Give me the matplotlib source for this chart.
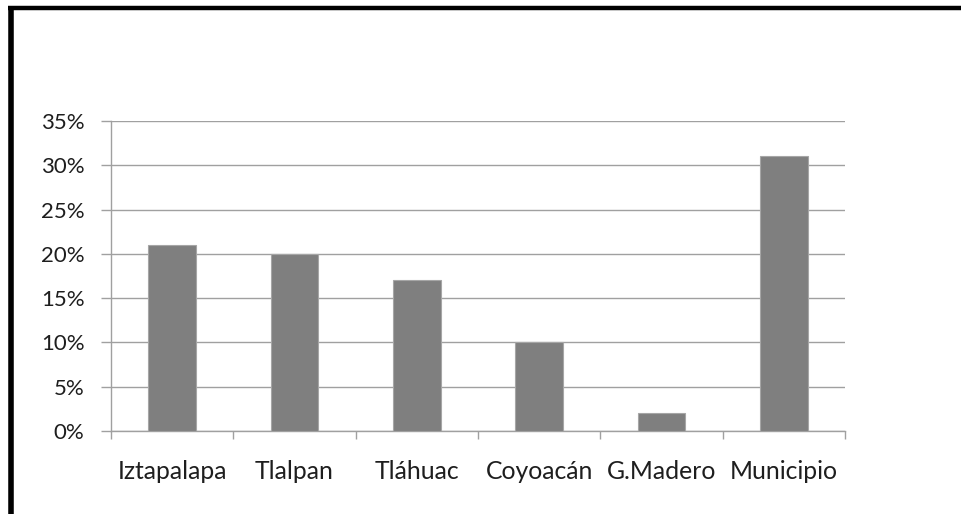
import numpy as np
import matplotlib
matplotlib.use('Agg')
import matplotlib.pyplot as plt
from matplotlib.lines import Line2D
from matplotlib.ticker import FuncFormatter, FixedLocator

# data
delegaciones = ['Iztapalapa', 'Tlalpan', 'Tláhuac', 'Coyoacán', 'G.Madero', 'Municipio']
porcentajes = [0.21, 0.20, 0.17, 0.10, 0.02, 0.31]
yticks = [0, 0.05, 0.10, 0.15, 0.20, 0.25, 0.30, 0.35]

plt.rcParams['font.family'] = ['Lato', 'DejaVu Sans']

fig = plt.figure(figsize=(9.61, 5.14), dpi=100)
ax = fig.add_axes([0.1155, 0.1615, 0.7638, 0.6031])

xs = np.arange(len(delegaciones))
ax.bar(xs, porcentajes, width=0.39, color='#7f7f7f', edgecolor='#a6a6a6',
       linewidth=0.8, zorder=3)

ax.set_xlim(-0.5, len(delegaciones) - 0.5)
ax.set_ylim(0, 0.35)
ax.set_yticks(yticks)
ax.yaxis.set_major_formatter(FuncFormatter(lambda v, p: '%d%%' % round(v * 100)))
ax.grid(axis='y', color='#a0a0a0', linewidth=1.0, zorder=0)

ax.set_xticks(xs)
ax.set_xticklabels(delegaciones)
ax.xaxis.set_minor_locator(FixedLocator(np.arange(len(delegaciones) + 1) - 0.5))
ax.tick_params(axis='x', which='major', length=0, pad=21, labelsize=17.8, labelcolor='#1e1e1e')
ax.tick_params(axis='x', which='minor', length=6, width=1, color='#a0a0a0')
ax.tick_params(axis='y', length=7, width=1, color='#a0a0a0', pad=12,
               labelsize=16, labelcolor='#1e1e1e')

for s in ['top', 'right']:
    ax.spines[s].set_visible(False)
for s in ['left', 'bottom']:
    ax.spines[s].set_color('#a0a0a0')
    ax.spines[s].set_linewidth(1.0)

# black frame on the left and top of the screenshot
fig.add_artist(Line2D([10.5 / 961, 10.5 / 961], [0, 1 - 6 / 514], transform=fig.transFigure,
                      color='black', linewidth=4, solid_capstyle='butt'))
fig.add_artist(Line2D([8 / 961, 1], [1 - 8 / 514, 1 - 8 / 514], transform=fig.transFigure,
                      color='black', linewidth=3.2, solid_capstyle='butt'))

fig.savefig('out.png', dpi=100)
